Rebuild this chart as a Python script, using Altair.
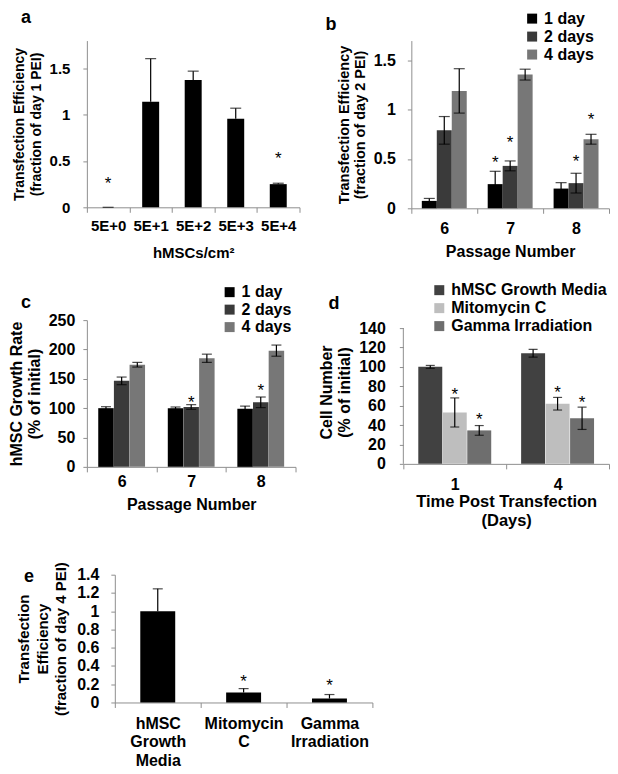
import altair as alt
import pandas as pd

FONT = "Liberation Sans"
GRAY = "#8f8f8f"

# ---------------- data ----------------
# panel a
a_cats = ["5E+0", "5E+1", "5E+2", "5E+3", "5E+4"]
a_vals = [0.0, 1.14, 1.375, 0.955, 0.25]
a_err = [0.0, 0.465, 0.095, 0.115, 0.01]
a_star_cats = ["5E+0", "5E+4"]
a_star_y = [0.30, 0.57]

# panel b
b_cats = ["6", "7", "8"]
b_series = ["1 day", "2 days", "4 days"]
b_1day = [0.075, 0.245, 0.20]
b_2day = [0.79, 0.43, 0.255]
b_4day = [1.19, 1.355, 0.70]
b_1day_err = [0.025, 0.13, 0.06]
b_2day_err = [0.14, 0.05, 0.10]
b_4day_err = [0.225, 0.055, 0.05]
b_star_cats = ["7", "7", "8", "8"]
b_star_series = ["1 day", "2 days", "2 days", "4 days"]
b_star_y = [0.51, 0.71, 0.52, 0.95]

# panel c
c_cats = ["6", "7", "8"]
c_series = ["1 day", "2 days", "4 days"]
c_1day = [100, 100, 99]
c_2day = [146.5, 102, 110]
c_4day = [174, 185, 198]
c_1day_err = [2.5, 2, 4.5]
c_2day_err = [6.5, 4, 9]
c_4day_err = [4, 7, 9.5]
c_star_cats = ["7", "8"]
c_star_series = ["2 days", "2 days"]
c_star_y = [118, 137]

# panel d
d_cats = ["1", "4"]
d_series = ["hMSC Growth Media", "Mitomycin C", "Gamma Irradiation"]
d_media = [100, 114]
d_mito = [53, 62]
d_gamma = [34.5, 47]
d_media_err = [1.5, 4]
d_mito_err = [15, 6.5]
d_gamma_err = [5, 11.5]
d_star_cats = ["1", "1", "4", "4"]
d_star_series = ["Mitomycin C", "Gamma Irradiation", "Mitomycin C", "Gamma Irradiation"]
d_star_y = [76.5, 50, 78, 67.5]
d_axis_span = [0, 140]

# panel e
e_cats = ["hMSC Growth Media", "Mitomycin C", "Gamma Irradiation"]
e_vals = [1.0, 0.11, 0.043]
e_err = [0.245, 0.042, 0.044]
e_star_cats = ["Mitomycin C", "Gamma Irradiation"]
e_star_y = [0.28, 0.24]

three_colors = ["#000000", "#3a3a3a", "#777777"]
d_colors = ["#414141", "#bebebe", "#6e6e6e"]


def grouped_df(cats, series, vals_list, errs_list):
    rows = []
    for s, vals, errs in zip(series, vals_list, errs_list):
        for c, v, e in zip(cats, vals, errs):
            rows.append({"cat": c, "series": s, "val": v, "lo": v - e, "hi": v + e})
    return pd.DataFrame(rows)


def single_df(cats, vals, errs):
    return pd.DataFrame({"cat": cats, "val": vals, "lo": vals,
                         "hi": [v + e for v, e in zip(vals, errs)]})


def panel(df, star_df, cats, *, width, height, ydomain, yticks, ytitle, xtitle,
          fs_ylab, fs_ytitle, ytitle_lh, fs_xlab, fs_xtitle, xtitle_lh,
          ylab_pad, ytitle_pad, xlab_pad, xtitle_pad,
          letter, letter_x, letter_y,
          series=None, colors=None, legend=None, outer_pad=0.7,
          bar_size=None, cap=10, star_fs=17, split_labels=False, xlab_lh=18,
          symmetric=True, x_shift=0, axis_span=None):
    xaxis_kw = dict(labelAngle=0, tickBand="extent", tickSize=5,
                    tickColor=GRAY, domainColor=GRAY, labelFont=FONT,
                    labelFontSize=fs_xlab, labelFontWeight="bold", labelColor="black",
                    labelPadding=xlab_pad, titleFont=FONT, titleFontSize=fs_xtitle,
                    titleFontWeight="bold", titleColor="black", titlePadding=xtitle_pad,
                    titleLineHeight=xtitle_lh)
    xaxis_kw["title"] = xtitle if xtitle is not None else ""
    if split_labels:
        xaxis_kw["labelExpr"] = "split(datum.label, ' ')"
        xaxis_kw["labelLineHeight"] = xlab_lh
    xscale_kw = dict(domain=cats, paddingInner=0, paddingOuter=0)
    if x_shift:
        xscale_kw["range"] = [x_shift, width]
    X = alt.X("cat:N", sort=cats, scale=alt.Scale(**xscale_kw),
              axis=alt.Axis(**xaxis_kw))
    yaxis_kw = dict(values=yticks, labelExpr="'' + datum.value", grid=False, tickSize=4,
                    tickColor=GRAY, domainColor=GRAY, labelFont=FONT,
                    labelFontSize=fs_ylab, labelFontWeight="bold", labelColor="black",
                    labelPadding=ylab_pad, title=ytitle, titleFont=FONT,
                    titleFontSize=fs_ytitle, titleFontWeight="bold", titleColor="black",
                    titlePadding=ytitle_pad, titleLineHeight=ytitle_lh)
    if x_shift:
        yaxis_kw["offset"] = -x_shift
    if axis_span is not None:
        yaxis_kw["domain"] = False
    yaxis = alt.Axis(**yaxis_kw)
    yscale = alt.Scale(domain=ydomain, nice=False, zero=True)

    enc = {"x": X}
    if series is not None:
        cat_w = (width - x_shift) / len(cats)
        enc["xOffset"] = alt.XOffset("series:N", sort=series,
                                     scale=alt.Scale(type="band", domain=series,
                                                     range=[0, cat_w],
                                                     paddingInner=0,
                                                     paddingOuter=outer_pad))
    base = alt.Chart(df)
    if series is not None:
        bars = base.mark_bar(size=bar_size).encode(
            y=alt.Y("val:Q", scale=yscale, axis=yaxis),
            color=alt.Color("series:N", sort=series,
                            scale=alt.Scale(domain=series, range=colors),
                            legend=legend),
            **enc)
    else:
        bars = base.mark_bar(size=bar_size, color="black").encode(
            y=alt.Y("val:Q", scale=yscale, axis=yaxis), **enc)
    rule = base.mark_rule(color="black", strokeWidth=1.2).encode(
        y=alt.Y("lo:Q", scale=yscale, axis=yaxis), y2="hi:Q", **enc)
    cap_hi = base.mark_tick(color="black", thickness=1.2, size=cap).encode(
        y=alt.Y("hi:Q", scale=yscale, axis=yaxis), **enc)
    layers = [bars, rule, cap_hi]
    if symmetric:
        cap_lo = base.mark_tick(color="black", thickness=1.2, size=cap).encode(
            y=alt.Y("lo:Q", scale=yscale, axis=yaxis), **enc)
        layers.append(cap_lo)
    stars = alt.Chart(star_df).mark_text(
        text="*", fontSize=star_fs, font=FONT, color="black",
        baseline="alphabetic", dy=round(0.58 * star_fs)).encode(
        y=alt.Y("y:Q", scale=yscale, axis=yaxis), **enc)
    layers.append(stars)
    if axis_span is not None:
        spine = alt.Chart(pd.DataFrame({"y0": [axis_span[0]], "y1": [axis_span[1]]})
                          ).mark_rule(color=GRAY, strokeWidth=1).encode(
            x=alt.value(0), y=alt.Y("y0:Q", scale=yscale, axis=yaxis), y2="y1:Q")
        layers.append(spine)
    lab = alt.Chart(pd.DataFrame({"t": [letter]})).mark_text(
        align="left", baseline="alphabetic", fontSize=18, font=FONT,
        fontWeight="bold", color="black").encode(
        text="t:N", x=alt.value(letter_x), y=alt.value(letter_y))
    layers.append(lab)
    return alt.layer(*layers).properties(width=width, height=height)


def legend_params(x, y, fs, row_pad):
    return alt.Legend(title=None, orient="none", legendX=x, legendY=y,
                      direction="vertical", symbolType="square", symbolSize=100,
                      symbolStrokeWidth=0, labelFont=FONT, labelFontSize=fs,
                      labelFontWeight="bold", labelColor="black", rowPadding=row_pad,
                      labelOffset=4, padding=0)


# ---------------- panels ----------------
a_df = single_df(a_cats, a_vals, a_err)
a_star = pd.DataFrame({"cat": a_star_cats, "y": a_star_y})
chart_a = panel(a_df, a_star, a_cats, width=213, height=167, ydomain=[0, 1.8],
                yticks=[0, 0.5, 1, 1.5],
                ytitle=["Transfection Efficiency", "(fraction of day 1 PEI)"],
                xtitle="hMSCs/cm²", fs_ylab=15, fs_ytitle=14, ytitle_lh=17,
                fs_xlab=15, fs_xtitle=15, xtitle_lh=17, ylab_pad=13, ytitle_pad=6,
                xlab_pad=6, xtitle_pad=12, letter="a", letter_x=-66,
                letter_y=-18, bar_size=17, cap=11, symmetric=False)

b_df = grouped_df(b_cats, b_series, [b_1day, b_2day, b_4day],
                  [b_1day_err, b_2day_err, b_4day_err])
b_star = pd.DataFrame({"cat": b_star_cats, "series": b_star_series, "y": b_star_y})
chart_b = panel(b_df, b_star, b_cats, width=198, height=168, ydomain=[0, 1.7],
                yticks=[0, 0.5, 1, 1.5],
                ytitle=["Transfection Efficiency", "(fraction of day 2 PEI)"],
                xtitle="Passage Number", fs_ylab=16, fs_ytitle=14.5, ytitle_lh=16,
                fs_xlab=16, fs_xtitle=16, xtitle_lh=18, ylab_pad=12, ytitle_pad=6,
                xlab_pad=7, xtitle_pad=7, letter="b", letter_x=-86,
                letter_y=-11, series=b_series, colors=three_colors,
                legend=legend_params(113, -30, 16, 2), outer_pad=0.70,
                bar_size=15, cap=11)

c_df = grouped_df(c_cats, c_series, [c_1day, c_2day, c_4day],
                  [c_1day_err, c_2day_err, c_4day_err])
c_star = pd.DataFrame({"cat": c_star_cats, "series": c_star_series, "y": c_star_y})
chart_c = panel(c_df, c_star, c_cats, width=209, height=147, ydomain=[0, 250],
                yticks=[0, 50, 100, 150, 200, 250],
                ytitle=["hMSC Growth Rate", "(% of initial)"],
                xtitle="Passage Number", fs_ylab=16, fs_ytitle=16, ytitle_lh=18,
                fs_xlab=16, fs_xtitle=16, xtitle_lh=18, ylab_pad=8, ytitle_pad=6,
                xlab_pad=2, xtitle_pad=7, letter="c", letter_x=-66,
                letter_y=-12, series=c_series, colors=three_colors,
                legend=legend_params(135, -36, 16, 1.5), outer_pad=0.72,
                bar_size=15.5, cap=10)

d_df = grouped_df(d_cats, d_series, [d_media, d_mito, d_gamma],
                  [d_media_err, d_mito_err, d_gamma_err])
d_star = pd.DataFrame({"cat": d_star_cats, "series": d_star_series, "y": d_star_y})
chart_d = panel(d_df, d_star, d_cats, width=206, height=144, ydomain=[0, 148.2],
                yticks=[0, 20, 40, 60, 80, 100, 120, 140],
                ytitle=["Cell Number", "(% of initial)"],
                xtitle=["Time Post Transfection", "(Days)"], fs_ylab=16,
                fs_ytitle=16, ytitle_lh=18, fs_xlab=16, fs_xtitle=16.5, xtitle_lh=18.5,
                ylab_pad=14, ytitle_pad=6, xlab_pad=8, xtitle_pad=1, letter="d",
                letter_x=-75, letter_y=-11, series=d_series, colors=d_colors,
                legend=legend_params(28, -38, 16, 2), outer_pad=0.60,
                bar_size=24, cap=9, axis_span=d_axis_span)

e_df = single_df(e_cats, e_vals, e_err)
e_star = pd.DataFrame({"cat": e_star_cats, "y": e_star_y})
chart_e = panel(e_df, e_star, e_cats, width=286, height=128, ydomain=[0, 1.4],
                yticks=[0, 0.2, 0.4, 0.6, 0.8, 1, 1.2, 1.4],
                ytitle=["Transfection", "Efficiency", "(fraction of day 4 PEI)"],
                xtitle=None, fs_ylab=16, fs_ytitle=15, ytitle_lh=18.5,
                fs_xlab=16, fs_xtitle=16, xtitle_lh=18, ylab_pad=12, ytitle_pad=8,
                xlab_pad=8, xtitle_pad=0, letter="e", letter_x=-63,
                letter_y=7, bar_size=35, cap=10,
                split_labels=True, xlab_lh=18.5, symmetric=False, x_shift=28)


def indep(c):
    return c.resolve_scale(color="independent", xOffset="independent").resolve_legend(
        color="independent")


row1 = indep(alt.concat(chart_a, chart_b, columns=2, spacing=25, align="none"))
row2 = indep(alt.concat(chart_c, chart_d, columns=2, spacing=22, align="none"))
top = indep(alt.concat(row1, row2, columns=1, spacing=22, align="none"))
chart = indep(alt.concat(top, chart_e, columns=1, spacing=32, align="none")).properties(
    padding=0, background="white").configure_view(strokeWidth=0)

chart.save("out.html", embed_options={"renderer": "svg", "actions": False})
